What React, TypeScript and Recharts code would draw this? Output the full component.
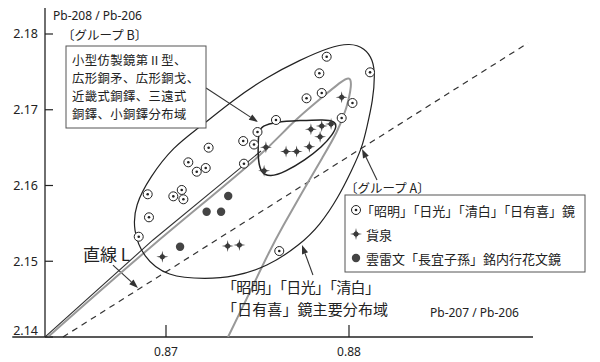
import React from 'react';
import { ScatterChart, Scatter, XAxis, YAxis, ReferenceLine } from 'recharts';

type Pair = [number, number];

// 「昭明」「日光」「清白」「日有喜」鏡
const mirrorPoints: Pair[] = [
  [0.87878, 2.177], [0.87838, 2.17481], [0.88115, 2.17494], [0.87851, 2.17221],
  [0.87768, 2.17151], [0.88019, 2.17089], [0.87601, 2.16865], [0.8796, 2.16891],
  [0.875, 2.16706], [0.87422, 2.16587], [0.87481, 2.16541], [0.87426, 2.16288],
  [0.87233, 2.16499], [0.87122, 2.16306], [0.87217, 2.16231], [0.87168, 2.16182],
  [0.87086, 2.15941], [0.8704, 2.15857], [0.87095, 2.15818], [0.869, 2.15884],
  [0.86907, 2.1558], [0.86851, 2.15324], [0.87619, 2.15135],
];

// 貨泉
const coinPoints: Pair[] = [
  [0.8796, 2.17164], [0.87792, 2.16742], [0.87851, 2.16785], [0.87902, 2.16812],
  [0.87842, 2.16644], [0.87783, 2.16512], [0.87714, 2.16449], [0.87656, 2.16449],
  [0.87546, 2.16504], [0.87536, 2.16195], [0.8698, 2.1506], [0.87337, 2.15201],
  [0.87401, 2.15215],
];

// 雲雷文「長宜子孫」銘内行花文鏡
const unraiPoints: Pair[] = [
  [0.8734, 2.15861], [0.87222, 2.15654], [0.87301, 2.15654], [0.87077, 2.15192],
];

// outline of the 昭明 etc. main distribution (big closed curve)
const groupAOutline: Pair[] = [
  [0.8682, 2.15413], [0.86831, 2.15743], [0.86913, 2.16112], [0.87038, 2.16508],
  [0.87186, 2.16772], [0.87366, 2.17129], [0.87552, 2.17432], [0.87732, 2.17657],
  [0.87896, 2.17828], [0.88005, 2.17881], [0.88087, 2.17815], [0.88131, 2.17657],
  [0.88142, 2.17459], [0.88131, 2.17129], [0.88098, 2.16772], [0.88071, 2.16495],
  [0.88016, 2.16205], [0.8794, 2.15835], [0.87842, 2.15479], [0.87732, 2.15215],
  [0.87552, 2.14924], [0.87366, 2.14792], [0.87224, 2.14766], [0.87005, 2.14792],
  [0.86874, 2.15056],
];

// outline of the group B distribution (small closed curve)
const groupBOutline: Pair[] = [
  [0.87525, 2.16785], [0.87596, 2.16838], [0.87732, 2.16858], [0.87869, 2.16871],
  [0.87918, 2.16851], [0.87934, 2.16785], [0.87913, 2.1668], [0.87852, 2.16508],
  [0.8776, 2.16337], [0.8765, 2.16178], [0.87568, 2.16112], [0.87519, 2.16165],
  [0.87503, 2.16337], [0.87503, 2.16561], [0.87508, 2.1672],
];

// gray narrow region
const grayOutline: Pair[] = [
  [0.86355, 2.14], [0.86934, 2.15241], [0.8753, 2.16403], [0.87678, 2.16812],
  [0.87842, 2.17142], [0.87967, 2.17393], [0.88005, 2.17432], [0.88016, 2.1734],
  [0.87989, 2.17023], [0.87934, 2.16693], [0.87863, 2.16403], [0.87732, 2.15861],
  [0.87639, 2.15465], [0.87568, 2.15149], [0.87459, 2.14594], [0.87339, 2.14],
];

const solidLine: Pair[] = [[0.863388, 2.14], [0.86929, 2.15281], [0.87519, 2.16455]];

// 直線 L
const lineL: Pair[] = [[0.86437, 2.14], [0.88978, 2.17881]];

const arrows: { from: Pair; to: Pair }[] = [
  { from: [0.87219, 2.17287], to: [0.87503, 2.16838] },
  { from: [0.8671, 2.1495], to: [0.86847, 2.14647] },
  { from: [0.87803, 2.14818], to: [0.87743, 2.15215] },
  { from: [0.88153, 2.16073], to: [0.88071, 2.16482] },
];

const xTicks = [0.87, 0.88];
const yTicks = [2.14, 2.15, 2.16, 2.17, 2.18];
const xDomain: Pair = [0.863388, 0.890055];
const yDomain: Pair = [2.14, 2.183432];

const toXY = (a: Pair[]) => a.map(([x, y]) => ({ x, y }));

const INK = '#222';
const JP = '"Noto Sans CJK JP", "Noto Sans", sans-serif';
const LAT = '"Noto Sans", "Open Sans", sans-serif';

const MirrorMark = ({ cx, cy }: any) => (
  <g>
    <circle cx={cx} cy={cy} r={4.5} fill="#fff" stroke={INK} strokeWidth={1} />
    <circle cx={cx} cy={cy} r={1.3} fill={INK} />
  </g>
);

const CoinMark = ({ cx, cy }: any) => {
  const a = 6;
  const b = 1;
  const d = `M${cx},${cy - a} L${cx + b},${cy - b} L${cx + a},${cy} L${cx + b},${cy + b} L${cx},${cy + a} L${cx - b},${cy + b} L${cx - a},${cy} L${cx - b},${cy - b} Z`;
  return (
    <g>
      <path d={d} fill="#3a3a3a" />
      <circle cx={cx} cy={cy} r={2.5} fill="#3a3a3a" />
    </g>
  );
};

const DotMark = ({ cx, cy }: any) => <circle cx={cx} cy={cy} r={4.2} fill="#444" />;

const NoMark = () => <g />;

const ArrowShape = (props: any) => {
  const { x1, y1, x2, y2 } = props;
  const ang = Math.atan2(y2 - y1, x2 - x1);
  const len = 9;
  const w = 3.2;
  const bx = x2 - len * Math.cos(ang);
  const by = y2 - len * Math.sin(ang);
  const px = -Math.sin(ang) * w;
  const py = Math.cos(ang) * w;
  return (
    <g>
      <line x1={x1} y1={y1} x2={bx} y2={by} stroke="#333" strokeWidth={1.1} />
      <path d={`M${x2},${y2} L${bx + px},${by + py} L${bx - px},${by - py} Z`} fill="#333" />
    </g>
  );
};

const XTick = ({ x, y, payload }: any) => (
  <g>
    <line x1={x} y1={y} x2={x} y2={y - 12} stroke={INK} strokeWidth={1.2} />
    <text x={x} y={y + 14} textAnchor="middle" dominantBaseline="central" fontSize={12} fontFamily={LAT} fill={INK}>
      {Number(payload.value).toFixed(2)}
    </text>
  </g>
);

const YTick = ({ x, y, payload }: any) => {
  const v = Number(payload.value);
  return (
    <g>
      <line x1={x} y1={y} x2={x + 8} y2={y} stroke={INK} strokeWidth={1.2} />
      <text x={x - 7} y={v === 2.14 ? y - 7 : y} textAnchor="end" dominantBaseline="central" fontSize={12.5} fontFamily={LAT} fill={INK}>
        {v.toFixed(2)}
      </text>
    </g>
  );
};

const jpStyle = { fontFamily: JP, fill: INK } as const;

const boxLines = ['小型仿製鏡第Ⅱ型、', '広形銅矛、広形銅戈、', '近畿式銅鐸、三遠式', '銅鐸、小銅鐸分布域'];

export default function App() {
  return (
    <div style={{ position: 'relative', width: 600, height: 362, background: '#fff' }}>
      <style>{'body{margin:0;}'}</style>
      <ScatterChart width={600} height={362} margin={{ top: 8, right: 67, bottom: 0, left: 0 }}>
        <XAxis
          type="number"
          dataKey="x"
          domain={xDomain}
          ticks={xTicks}
          allowDataOverflow
          height={25}
          tickSize={0}
          tickMargin={0}
          tickLine={false}
          axisLine={{ stroke: INK, strokeWidth: 1.3 }}
          tick={<XTick />}
        />
        <YAxis
          type="number"
          dataKey="y"
          domain={yDomain}
          ticks={yTicks}
          allowDataOverflow
          width={45}
          tickSize={0}
          tickMargin={0}
          tickLine={false}
          axisLine={{ stroke: INK, strokeWidth: 1.3 }}
          tick={<YTick />}
        />
        <ReferenceLine
          segment={[{ x: 0.8616, y: 2.14 }, { x: xDomain[0], y: 2.14 }]}
          ifOverflow="visible"
          stroke={INK}
          strokeWidth={1.3}
        />
        <ReferenceLine
          segment={lineL.map(([x, y]) => ({ x, y }))}
          ifOverflow="visible"
          stroke="#333"
          strokeWidth={1.2}
          strokeDasharray="6 5"
        />
        {arrows.map((a, i) => (
          <ReferenceLine
            key={i}
            segment={[{ x: a.from[0], y: a.from[1] }, { x: a.to[0], y: a.to[1] }]}
            ifOverflow="visible"
            shape={ArrowShape}
          />
        ))}
        <Scatter
          data={toXY(grayOutline)}
          shape={NoMark}
          line={{ stroke: '#999', strokeWidth: 2 }}
          lineJointType="basis"
          isAnimationActive={false}
        />
        <Scatter
          data={toXY(solidLine)}
          shape={NoMark}
          line={{ stroke: '#333', strokeWidth: 1.1 }}
          lineJointType="linear"
          isAnimationActive={false}
        />
        <Scatter
          data={toXY(groupAOutline)}
          shape={NoMark}
          line={{ stroke: INK, strokeWidth: 1.2 }}
          lineJointType="basisClosed"
          isAnimationActive={false}
        />
        <Scatter
          data={toXY(groupBOutline)}
          shape={NoMark}
          line={{ stroke: INK, strokeWidth: 1.5 }}
          lineJointType="basisClosed"
          isAnimationActive={false}
        />
        <Scatter data={toXY(mirrorPoints)} shape={MirrorMark} isAnimationActive={false} />
        <Scatter data={toXY(coinPoints)} shape={CoinMark} isAnimationActive={false} />
        <Scatter data={toXY(unraiPoints)} shape={DotMark} isAnimationActive={false} />
      </ScatterChart>

      <svg width={600} height={362} style={{ position: 'absolute', left: 0, top: 0, pointerEvents: 'none' }}>
        <text x={53} y={15} dominantBaseline="central" fontSize={12} fontFamily={LAT} fill={INK}>Pb-208 / Pb-206</text>
        <text x={62} y={34} dominantBaseline="central" fontSize={12.5} style={jpStyle}>〔グループ B〕</text>

        <rect x={66} y={46} width={140} height={82} fill="#fff" stroke="#555" strokeWidth={1} />
        {boxLines.map((t, i) => (
          <text key={i} x={72} y={60 + i * 18} dominantBaseline="central" fontSize={12.3} textLength={t.length * 12.7} lengthAdjust="spacing" style={jpStyle}>
            {t}
          </text>
        ))}

        <text x={83} y={253} dominantBaseline="central" fontSize={17} style={jpStyle}>直線 L</text>

        <text x={222} y={286} dominantBaseline="central" fontSize={15} textLength={158} lengthAdjust="spacing" style={jpStyle}>「昭明」「日光」「清白」</text>
        <text x={222} y={308} dominantBaseline="central" fontSize={15} textLength={166} lengthAdjust="spacing" style={jpStyle}>「日有喜」鏡主要分布域</text>

        <text x={345} y={187} dominantBaseline="central" fontSize={12.5} style={jpStyle}>〔グループ A〕</text>

        <rect x={345} y={195} width={240} height={77} fill="#fff" stroke="#555" strokeWidth={1} />
        <MirrorMark cx={356} cy={210} />
        <text x={361} y={210} dominantBaseline="central" fontSize={13} textLength={214} lengthAdjust="spacing" style={jpStyle}>「昭明」「日光」「清白」「日有喜」鏡</text>
        <CoinMark cx={356} cy={234} />
        <text x={366} y={234} dominantBaseline="central" fontSize={13} style={jpStyle}>貨泉</text>
        <DotMark cx={356} cy={258} />
        <text x={366} y={258} dominantBaseline="central" fontSize={13} style={jpStyle}>雲雷文「長宜子孫」銘内行花文鏡</text>

        <text x={430} y={312} dominantBaseline="central" fontSize={12} fontFamily={LAT} fill={INK}>Pb-207 / Pb-206</text>
      </svg>
    </div>
  );
}
